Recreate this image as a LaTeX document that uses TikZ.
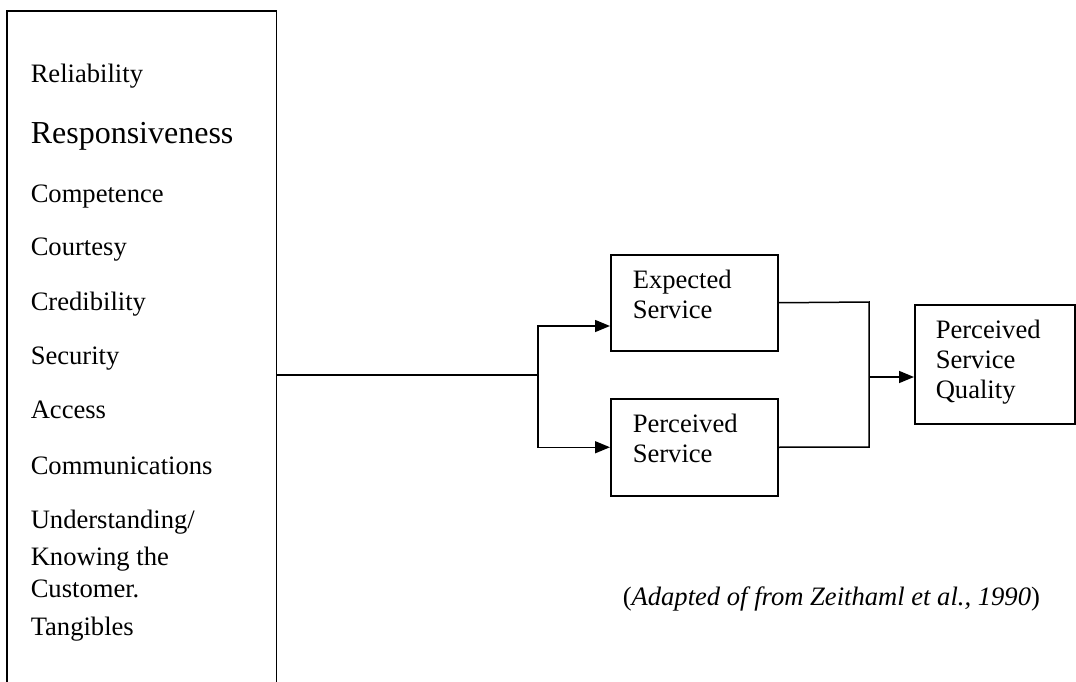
\documentclass[tikz,border=0pt]{standalone}
\usepackage{fontspec}
\setmainfont{Liberation Serif}
\usetikzlibrary{arrows.meta}
\begin{document}
\begin{tikzpicture}[x=1pt,y=-1pt,
  line width=1.5pt,
  txt/.style={anchor=base west,inner sep=0pt,font=\fontsize{26.6}{30}\selectfont},
  bigtxt/.style={anchor=base west,inner sep=0pt,font=\fontsize{32}{36}\selectfont},
  boxx/.style={draw,rectangle,inner sep=0pt,anchor=north west},
  arr/.style={-{Triangle[length=15pt,width=12pt]}}]
\useasboundingbox (0,0) rectangle (1076,682);

% list of service-quality dimensions (box open at the bottom)
\node[inner sep=0pt,minimum width=268pt,minimum height=671pt,anchor=north west] (dims) at (7,11) {};
\draw (dims.south west) |- (dims.north east) -- (dims.south east);
\node[txt] (d1) at (30,83) {Reliability};
\node[bigtxt] (d2) at (30,144) {Responsiveness};
\node[txt] (d3) at (30,202) {Competence};
\node[txt] (d4) at (30,255) {Courtesy};
\node[txt] (d5) at (30,310) {Credibility};
\node[txt] (d6) at (30,364) {Security};
\node[txt] (d7) at (30,418) {Access};
\node[txt] (d8) at (30,474) {Communications};
\node[txt] (d9a) at (30,528) {Understanding/};
\node[txt] (d9b) at (30,565) {Knowing the};
\node[txt] (d9c) at (30,597) {Customer.};
\node[txt] (d10) at (30,635) {Tangibles};

% expected and perceived service
\node[boxx,minimum width=167pt,minimum height=96pt] (exp) at (610,254) {};
\node[txt] (exp1) at (632,288) {Expected};
\node[txt] (exp2) at (632,318) {Service};
\node[boxx,minimum width=167pt,minimum height=97pt] (per) at (610,398) {};
\node[txt] (per1) at (632,432) {Perceived};
\node[txt] (per2) at (632,462) {Service};

% perceived service quality
\node[boxx,minimum width=160pt,minimum height=119pt] (psq) at (914,304) {};
\node[txt] (psq1) at (935,338) {Perceived};
\node[txt] (psq2) at (935,368) {Service};
\node[txt] (psq3) at (935,398) {Quality};

% connectors
\coordinate (split) at (538,375);
\coordinate (expIn) at (exp.west |- 0,326);
\coordinate (join) at (869,377);
\coordinate (expOut) at (869,302);
\coordinate (perOut) at (869,447);
\draw (dims.east |- split) -- (split);
\draw[arr] (split) |- (expIn);
\draw[arr] (split) |- (per.west);
\draw (exp.east) -- (expOut) -- (perOut) -- (per.east);
\draw[arr] (join) -- (psq.west |- join);

% source note
\node[anchor=base west,inner sep=0pt,font=\fontsize{26.6}{30}\selectfont] (src) at (622,605)
  {(\textit{Adapted of from Zeithaml et al., 1990})};
\end{tikzpicture}
\end{document}
